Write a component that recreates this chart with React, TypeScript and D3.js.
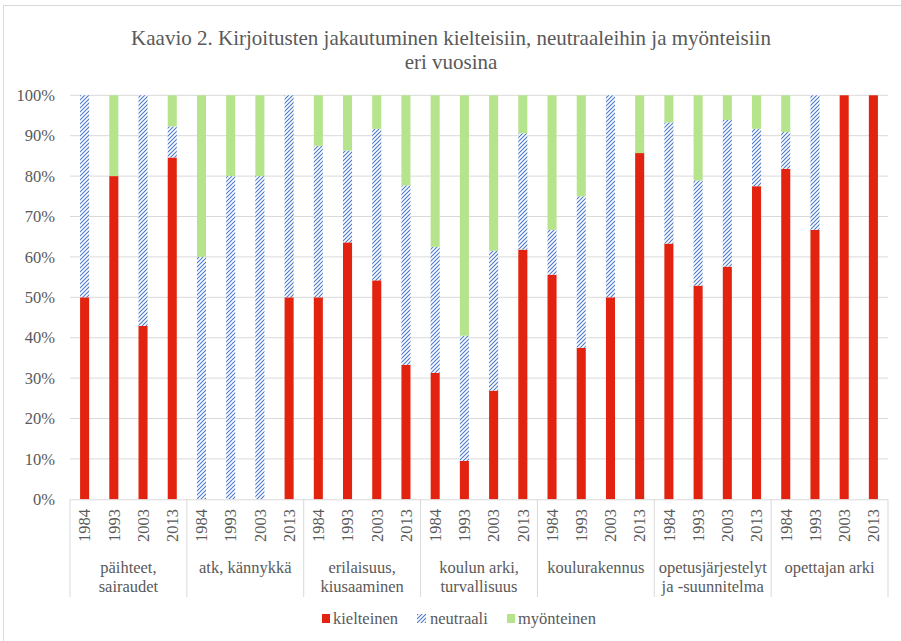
import React, { useEffect, useRef } from "react";
import * as d3 from "d3";

const groups = [
  ["päihteet,", "sairaudet"],
  ["atk, kännykkä"],
  ["erilaisuus,", "kiusaaminen"],
  ["koulun arki,", "turvallisuus"],
  ["koulurakennus"],
  ["opetusjärjestelyt", "ja -suunnitelma"],
  ["opettajan arki"],
];
const years = ["1984", "1993", "2003", "2013"];
const yTicks = [0, 10, 20, 30, 40, 50, 60, 70, 80, 90, 100];

const kielteinen = [50, 80, 42.9, 84.6, 0, 0, 0, 50, 50, 63.6, 54.2, 33.3, 31.3, 9.5, 26.9, 61.8, 55.6, 37.5, 50, 85.7, 63.3, 52.9, 57.6, 77.5, 81.8, 66.7, 100, 100];
const neutraali = [50, 0, 57.1, 7.7, 60, 80, 80, 50, 37.5, 22.7, 37.5, 44.4, 31.2, 31.0, 34.6, 28.8, 11.1, 37.5, 50, 0, 30.0, 26.0, 36.3, 14.2, 9.1, 33.3, 0, 0];
const myonteinen = [0, 20, 0, 7.7, 40, 20, 20, 0, 12.5, 13.7, 8.3, 22.3, 37.5, 59.5, 38.5, 9.4, 33.3, 25, 0, 14.3, 6.7, 21.1, 6.1, 8.3, 9.1, 0, 0, 0];

const seriesKeys = ["kielteinen", "neutraali", "myonteinen"];
const seriesNames = ["kielteinen", "neutraali", "myönteinen"];

const RED = "#E2230F";
const GREEN = "#B5E48C";
const BLUE = "#4A78CC";
const TEXT = "#595959";
const GRID = "#D9D9D9";
const FONT = "Liberation Serif";

export default function App() {
  const ref = useRef(null);

  useEffect(() => {
    const width = 901;
    const height = 641;
    const margin = { top: 95.3, right: 13, bottom: 141.7, left: 70 };

    const svg = d3.select(ref.current);
    svg.selectAll("*").remove();

    const rows = [];
    groups.forEach((g, gi) =>
      years.forEach((yr, yi) => {
        const i = gi * years.length + yi;
        rows.push({
          key: gi + "|" + yr,
          year: yr,
          kielteinen: kielteinen[i],
          neutraali: neutraali[i],
          myonteinen: myonteinen[i],
        });
      })
    );

    const x = d3
      .scaleBand()
      .domain(rows.map((d) => d.key))
      .range([margin.left, width - margin.right])
      .paddingInner(0.69)
      .paddingOuter(0.345);

    const y = d3
      .scaleLinear()
      .domain([0, 100])
      .range([height - margin.bottom, margin.top]);

    const stacked = d3.stack().keys(seriesKeys)(rows);
    const groupWidth = x.step() * years.length;
    const x0 = margin.left;
    const x1 = width - margin.right;
    const yBase = y(0);

    const label = (sel, size = 16.5) =>
      sel
        .attr("font-family", FONT)
        .style("font-family", FONT)
        .attr("font-size", size)
        .attr("fill", TEXT);

    const pat = svg
      .append("defs")
      .append("pattern")
      .attr("id", "hatch")
      .attr("patternUnits", "userSpaceOnUse")
      .attr("width", 4)
      .attr("height", 4);
    pat.append("rect").attr("width", 4).attr("height", 4).attr("fill", "#fff");
    pat
      .append("path")
      .attr("d", "M-1,1 l2,-2 M0,4 l4,-4 M3,5 l2,-2")
      .attr("fill", "none")
      .style("stroke", BLUE)
      .style("stroke-width", 1.1);

    svg
      .append("rect")
      .attr("x", 3.5)
      .attr("y", 5.5)
      .attr("width", width)
      .attr("height", height)
      .attr("fill", "#fff")
      .attr("stroke", GRID);

    // title
    ["Kaavio 2. Kirjoitusten jakautuminen kielteisiin, neutraaleihin ja myönteisiin", "eri vuosina"].forEach((t, i) =>
      svg
        .append("text")
        .attr("x", 451)
        .attr("y", 45 + i * 24)
        .attr("text-anchor", "middle")
        .call(label, 21)
        .text(t)
    );

    // gridlines + y labels
    const yg = svg.append("g");
    yg.selectAll("line")
      .data(yTicks.filter((t) => t > 0))
      .join("line")
      .attr("x1", x0)
      .attr("x2", x1)
      .attr("y1", (t) => y(t))
      .attr("y2", (t) => y(t))
      .attr("stroke", GRID);
    yg.selectAll("text")
      .data(yTicks)
      .join("text")
      .attr("x", 55)
      .attr("y", (t) => y(t))
      .attr("dy", "0.35em")
      .attr("text-anchor", "end")
      .call(label)
      .text((t) => t + "%");

    // stacked bars
    const fills = [RED, "url(#hatch)", GREEN];
    svg
      .append("g")
      .selectAll("g")
      .data(stacked)
      .join("g")
      .attr("fill", (s, si) => fills[si])
      .selectAll("rect")
      .data((s) => s.filter((d) => d[1] - d[0] > 0))
      .join("rect")
      .attr("x", (d) => x(d.data.key))
      .attr("width", x.bandwidth())
      .attr("y", (d) => y(d[1]))
      .attr("height", (d) => y(d[0]) - y(d[1]));

    // category axis
    svg
      .append("line")
      .attr("x1", x0)
      .attr("x2", x1)
      .attr("y1", yBase + 0.5)
      .attr("y2", yBase + 0.5)
      .attr("stroke", GRID);
    svg
      .append("g")
      .selectAll("line")
      .data(d3.range(groups.length + 1))
      .join("line")
      .attr("x1", (i) => x0 + i * groupWidth)
      .attr("x2", (i) => x0 + i * groupWidth)
      .attr("y1", yBase)
      .attr("y2", 597)
      .attr("stroke", GRID);

    svg
      .append("g")
      .selectAll("text")
      .data(rows)
      .join("text")
      .attr("transform", (d) => `translate(${x(d.key) + x.bandwidth() / 2},509) rotate(-90)`)
      .attr("text-anchor", "end")
      .attr("dy", "0.35em")
      .call(label)
      .text((d) => d.year);

    groups.forEach((g, gi) =>
      g.forEach((line, li) =>
        svg
          .append("text")
          .attr("x", x0 + (gi + 0.5) * groupWidth)
          .attr("y", 573 + li * 19)
          .attr("text-anchor", "middle")
          .call(label)
          .text(line)
      )
    );

    // legend
    const legendX = [322, 417, 507];
    seriesNames.forEach((name, i) => {
      svg
        .append("rect")
        .attr("x", legendX[i])
        .attr("y", 614)
        .attr("width", i === 1 ? 9 : 8)
        .attr("height", 9)
        .attr("fill", fills[i]);
      svg
        .append("text")
        .attr("x", legendX[i] + (i === 1 ? 13 : 11))
        .attr("y", 624)
        .call(label)
        .text(name);
    });
  }, []);

  return <svg ref={ref} width={901} height={641} style={{ position: "absolute", left: 0, top: 0, background: "#fff" }} />;
}
